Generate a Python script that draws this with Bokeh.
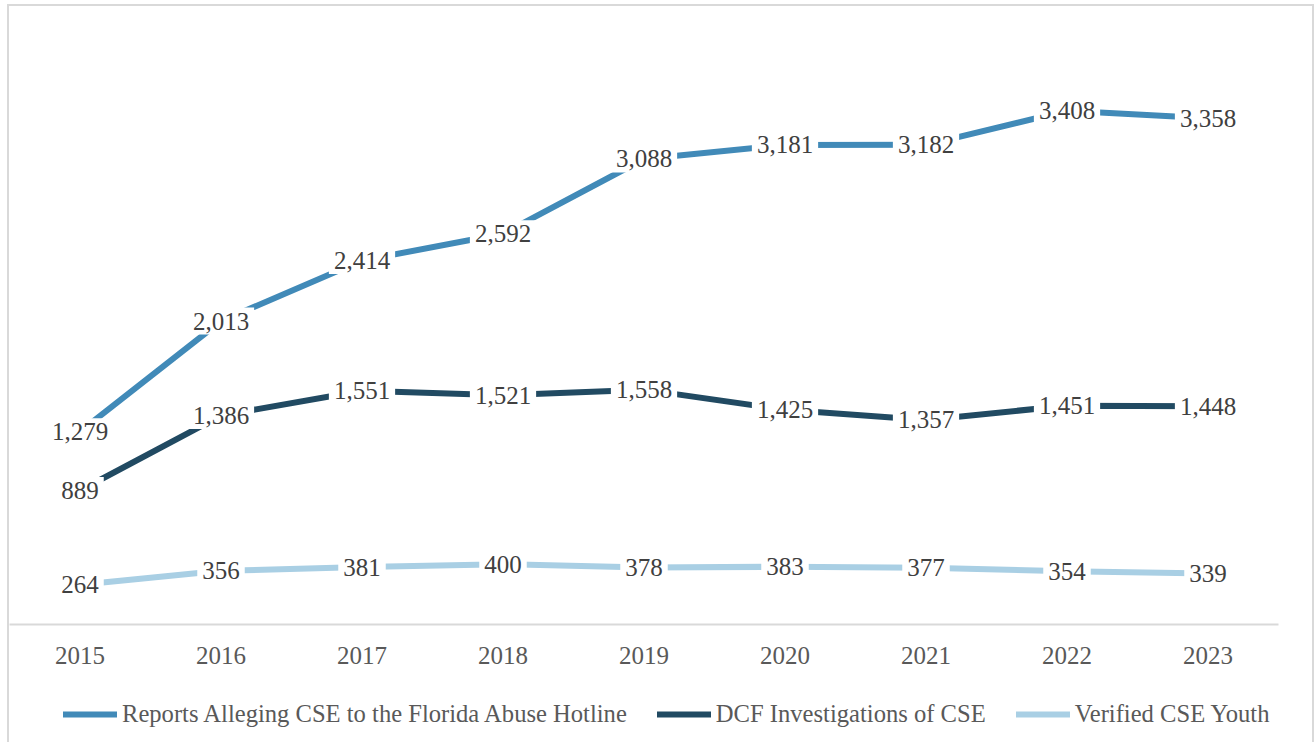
from bokeh.plotting import figure
from bokeh.layouts import column
from bokeh.models import Legend, LegendItem, ColumnDataSource, Range1d, FactorRange
from bokeh.embed import file_html
from bokeh.resources import INLINE
from bokeh.core.properties import value

years = ["2015", "2016", "2017", "2018", "2019", "2020", "2021", "2022", "2023"]
reports = [1279, 2013, 2414, 2592, 3088, 3181, 3182, 3408, 3358]
investigations = [889, 1386, 1551, 1521, 1558, 1425, 1357, 1451, 1448]
verified = [264, 356, 381, 400, 378, 383, 377, 354, 339]
series_names = [
    "Reports Alleging CSE to the Florida Abuse Hotline",
    "DCF Investigations of CSE",
    "Verified CSE Youth",
]
series_values = [reports, investigations, verified]
colors = ["#418ab8", "#214a62", "#a9cfe4"]

FONT = value("Liberation Serif")
W = 1303

p = figure(
    width=W, height=687,
    x_range=FactorRange(factors=years, range_padding=0),
    y_range=Range1d(0, 4000),
    output_backend="svg", toolbar_location=None,
    min_border_left=0, min_border_right=34, min_border_top=15, min_border_bottom=69,
)
p.outline_line_color = None
p.xgrid.visible = False
p.ygrid.visible = False
p.yaxis.visible = False

ax = p.xaxis[0]
ax.axis_line_color = "#d9d9d9"
ax.axis_line_width = 2
ax.major_tick_line_color = None
ax.minor_tick_line_color = None
ax.major_label_standoff = 16
ax.major_label_text_font = "Liberation Serif"
ax.major_label_text_font_size = "25px"
ax.major_label_text_color = "#595959"

for name, vals, col in zip(series_names, series_values, colors):
    src = ColumnDataSource(dict(x=years, y=vals))
    p.line("x", "y", source=src, line_color=col, line_width=6, line_cap="round", line_join="round")

for vals in series_values:
    src = ColumnDataSource(dict(x=years, y=vals, t=[f"{v:,}" for v in vals]))
    p.text("x", "y", text="t", source=src, text_font=FONT, text_font_size="25px",
           text_color="#404040", text_align="center", text_baseline="middle",
           background_fill_color="white", padding=5)

# legend strip (series drawn out of its visible range, only their legend swatches show)
p2 = figure(width=W, height=49, x_range=Range1d(0, 1), y_range=Range1d(0, 1),
            output_backend="svg", toolbar_location=None,
            min_border_left=0, min_border_right=0, min_border_top=0, min_border_bottom=0)
p2.outline_line_color = None
p2.xaxis.visible = False
p2.yaxis.visible = False
p2.xgrid.visible = False
p2.ygrid.visible = False

items = []
for name, vals, col in zip(series_names, series_values, colors):
    src = ColumnDataSource(dict(x=list(range(len(vals))), y=vals))
    r = p2.line("x", "y", source=src, line_color=col, line_width=6, line_cap="round")
    items.append(LegendItem(label=name, renderers=[r]))

legend = Legend(items=items, orientation="horizontal", location=(54, 14))
legend.label_text_font = "Liberation Serif"
legend.label_text_font_size = "24.6px"
legend.label_text_color = "#595959"
legend.glyph_width = 54
legend.label_standoff = 5
legend.spacing = 30
legend.padding = 0
legend.margin = 0
legend.border_line_color = None
legend.background_fill_alpha = 0
p2.add_layout(legend, "center")

layout = column(p, p2, spacing=0, styles={
    "margin-left": "7px", "margin-top": "4px",
    "border-top": "2px solid #d9d9d9", "border-left": "2px solid #d9d9d9",
    "border-right": "2px solid #d9d9d9",
})

open("out.html", "w").write(file_html(layout, INLINE))
